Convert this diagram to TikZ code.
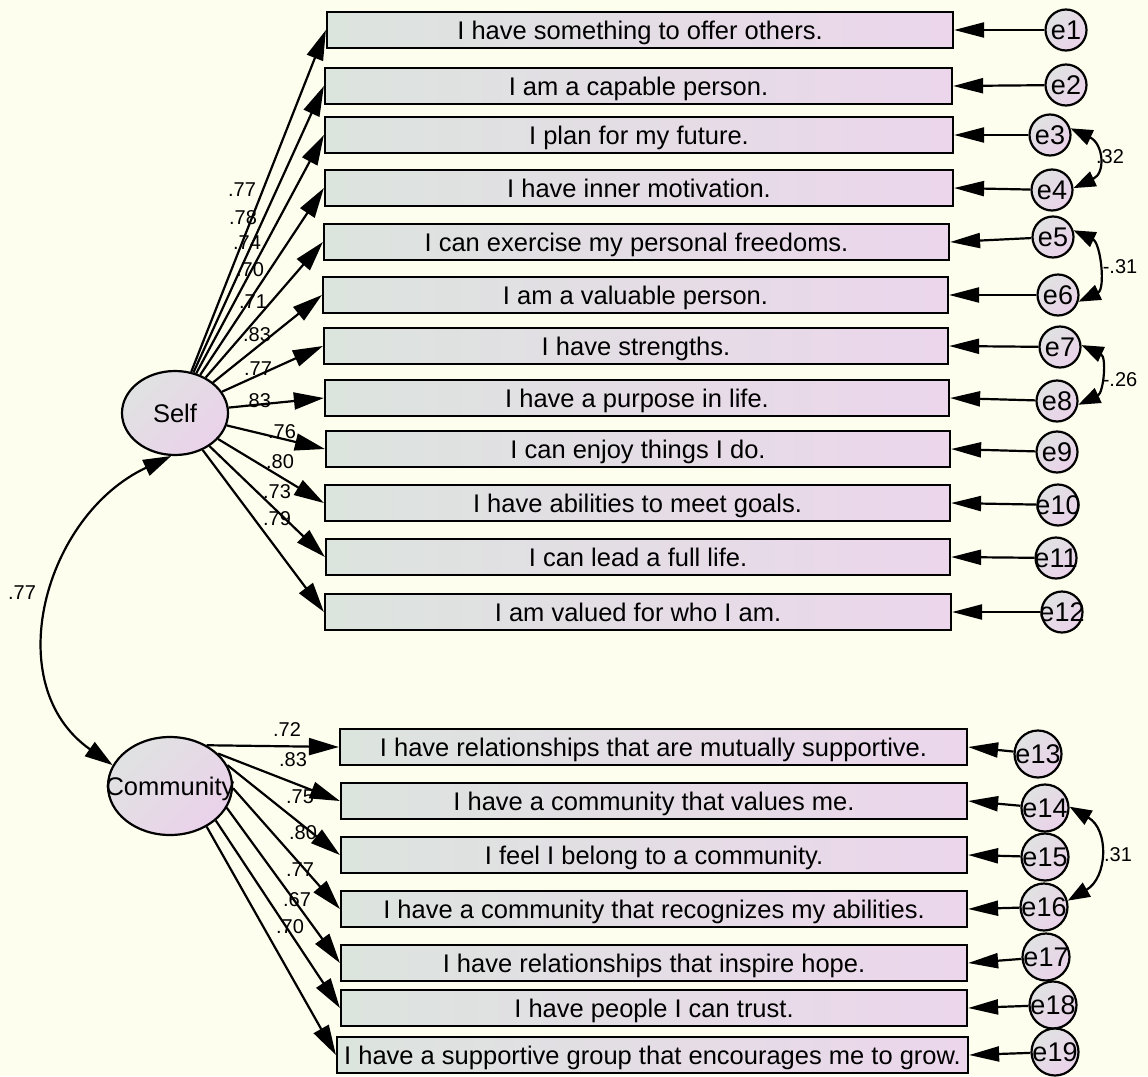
\documentclass[tikz,border=0pt]{standalone}
\usepackage{fontspec}
\setmainfont{Liberation Sans}
\usetikzlibrary{arrows.meta,shapes.geometric}
\definecolor{bgc}{RGB}{253,254,238}
\definecolor{boxL}{RGB}{220,228,222}
\definecolor{boxR}{RGB}{236,214,236}
\definecolor{latT}{RGB}{224,226,226}
\definecolor{latB}{RGB}{234,210,234}
\newcommand{\bigtxt}{\fontsize{25.5}{30}\selectfont}
\newcommand{\errtxt}{\fontsize{27}{30}\selectfont}
\newcommand{\smtxt}{\fontsize{20}{22}\selectfont}
\newcommand{\zw}[1]{\makebox[0pt]{#1}}
\begin{document}
\begin{tikzpicture}[x=1pt,y=1pt,
  obs/.style={draw, line width=2.2pt, minimum height=36pt, inner sep=0pt,
    text height=18pt, text depth=0pt,
    left color=boxL, right color=boxR, font=\bigtxt},
  lat/.style={ellipse, draw, line width=2.2pt, inner sep=0pt,
    text height=18pt, text depth=0pt,
    top color=latT, bottom color=latB, shading angle=45, font=\bigtxt},
  err/.style={circle, draw, line width=2.2pt, inner sep=0pt, minimum size=41pt,
    text height=19pt, text depth=0pt,
    top color=latT, bottom color=latB, shading angle=45, font=\errtxt},
  errb/.style={err, minimum size=47pt},
  lab/.style={font=\smtxt, inner sep=0pt},
  path/.style={line width=2.2pt, -{Triangle[length=30pt,width=17pt]}},
  epath/.style={line width=2.2pt, -{Triangle[length=30pt,width=15pt]}},
  cov/.style={line width=2.2pt, {Triangle[length=22pt,width=16pt]}-{Triangle[length=22pt,width=16pt]}},
  cov2/.style={line width=2.2pt, {Triangle[length=28pt,width=17pt]}-{Triangle[length=28pt,width=17pt]}}]
\fill[bgc] (0,0) rectangle (1148,-1076);
\useasboundingbox (0,0) rectangle (1148,-1076);

% observed variables (Self)
\node[obs, minimum width=626pt] (b1) at (640,-30) {I have something to offer others.};
\node[obs, minimum width=627pt] (b2) at (638.5,-86) {I am a capable person.};
\node[obs, minimum width=628pt] (b3) at (639,-135) {I plan for my future.};
\node[obs, minimum width=628pt] (b4) at (639,-188) {I have inner motivation.};
\node[obs, minimum width=625pt] (b5) at (636.5,-242) {I can exercise my personal freedoms.};
\node[obs, minimum width=625pt] (b6) at (635.5,-295) {I am a valuable person.};
\node[obs, minimum width=624pt] (b7) at (636,-346) {I have strengths.};
\node[obs, minimum width=624pt] (b8) at (637,-398) {I have a purpose in life.};
\node[obs, minimum width=624pt] (b9) at (638,-449) {I can enjoy things I do.};
\node[obs, minimum width=625pt] (b10) at (637.5,-503) {I have abilities to meet goals.};
\node[obs, minimum width=624pt] (b11) at (638,-557) {I can lead a full life.};
\node[obs, minimum width=626pt] (b12) at (638,-612) {I am valued for who I am.};

% observed variables (Community)
\node[obs, minimum width=627pt] (b13) at (653.5,-747) {I have relationships that are mutually supportive.};
\node[obs, minimum width=626pt] (b14) at (654,-801) {I have a community that values me.};
\node[obs, minimum width=626pt] (b15) at (654,-855) {I feel I belong to a community.};
\node[obs, minimum width=626pt] (b16) at (654,-909) {I have a community that recognizes my abilities.};
\node[obs, minimum width=626pt] (b17) at (654,-963) {I have relationships that inspire hope.};
\node[obs, minimum width=626pt] (b18) at (654,-1008) {I have people I can trust.};
\node[obs, minimum width=631pt] (b19) at (652.5,-1055) {I have a supportive group that encourages me to grow.};

% latent variables
\node[lat, minimum width=106pt, minimum height=84pt] (self) at (175,-413) {\zw{Self}};
\node[lat, minimum width=124pt, minimum height=98pt] (comm) at (170,-786) {\zw{Community}};

% error terms
\node[err] (e1) at (1066,-30) {\zw{e1}};
\node[err] (e2) at (1066,-85) {\zw{e2}};
\node[err] (e3) at (1050,-135) {\zw{e3}};
\node[err] (e4) at (1052,-190) {\zw{e4}};
\node[err] (e5) at (1053,-237) {\zw{e5}};
\node[err] (e6) at (1058,-295) {\zw{e6}};
\node[err] (e7) at (1060,-347) {\zw{e7}};
\node[err] (e8) at (1057,-401) {\zw{e8}};
\node[err] (e9) at (1057,-452) {\zw{e9}};
\node[err] (e10) at (1058,-505) {\zw{e10}};
\node[err] (e11) at (1056,-558) {\zw{e11}};
\node[err] (e12) at (1062,-612) {\zw{e12}};
\node[errb] (e13) at (1038,-754) {\zw{e13}};
\node[errb] (e14) at (1045,-808) {\zw{e14}};
\node[errb] (e15) at (1045,-857) {\zw{e15}};
\node[errb] (e16) at (1044,-907) {\zw{e16}};
\node[errb] (e17) at (1046,-957) {\zw{e17}};
\node[errb] (e18) at (1053,-1005) {\zw{e18}};
\node[errb] (e19) at (1055,-1052) {\zw{e19}};

% loadings Self
\foreach \i in {1,...,12} {\draw[path] (self) -- (b\i.west);}
% loadings Community
\draw[path] (comm.48) -- (b13.west);
\draw[path] (comm.34) -- (b14.west);
\draw[path] (comm.20) -- (b15.west);
\draw[path] (comm.-2) -- (b16.west);
\draw[path] (comm.-21) -- (b17.west);
\draw[path] (comm.-37) -- (b18.west);
\draw[path] (comm.-48) -- (b19.west);

% error paths
\foreach \i in {1,...,19} {\draw[epath] (e\i) -- (b\i.east);}

% covariances
\draw[cov2] (self.265) to[out=205,in=145,distance=140pt] (comm.160);
\draw[cov] (e3.18) to[out=-25,in=25,distance=36pt] (e4.5);
\draw[cov] (e5.18) to[out=-25,in=25,distance=30pt] (e6.-18);
\draw[cov] (e7.5) to[out=-25,in=25,distance=28pt] (e8.-10);
\draw[cov] (e14.3) to[out=-30,in=30,distance=46pt] (e16.15);

% labels
\node[lab] (l1) at (242,-190) {.77};
\node[lab] (l2) at (243,-218) {.78};
\node[lab] (l3) at (247,-243) {.74};
\node[lab] (l4) at (250,-270) {.70};
\node[lab] (l5) at (253,-302) {.71};
\node[lab] (l6) at (257,-335) {.83};
\node[lab] (l7) at (258,-369) {.77};
\node[lab] (l8) at (257,-401) {.83};
\node[lab] (l9) at (282,-432) {.76};
\node[lab] (l10) at (280,-462) {.80};
\node[lab] (l11) at (277,-492) {.73};
\node[lab] (l12) at (277,-519) {.79};
\node[lab] (l13) at (287,-730) {.72};
\node[lab] (l14) at (293,-760) {.83};
\node[lab] (l15) at (300,-797) {.75};
\node[lab] (l16) at (303,-833) {.80};
\node[lab] (l17) at (300,-870) {.77};
\node[lab] (l18) at (297,-900) {.67};
\node[lab] (l19) at (290,-927) {.70};
\node[lab] (c1) at (22,-593) {.77};
\node[lab] (c2) at (1110,-157) {.32};
\node[lab] (c3) at (1120,-267) {-.31};
\node[lab] (c4) at (1120,-380) {-.26};
\node[lab] (c5) at (1118,-855) {.31};
\end{tikzpicture}
\end{document}
